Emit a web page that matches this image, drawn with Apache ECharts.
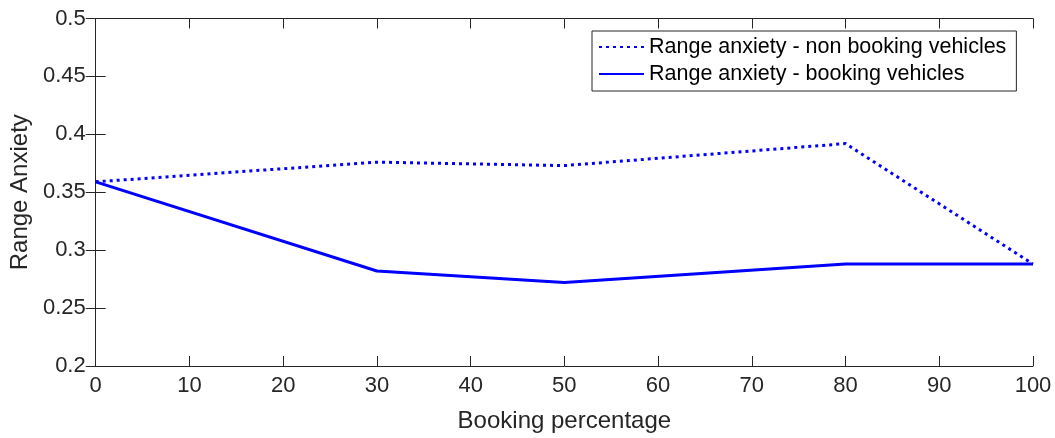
<!DOCTYPE html>
<html>
<head>
<meta charset="utf-8">
<script src="https://cdn.jsdelivr.net/npm/echarts@6/dist/echarts.min.js"></script>
<style>
  html, body { margin: 0; padding: 0; background: #ffffff; }
  #chart { width: 1055px; height: 438px; }
</style>
</head>
<body>
<div id="chart"></div>
<script>
// Booking percentage levels (x) and range anxiety per vehicle group
const bookingPct = [0, 30, 50, 80, 100];
const nonBooking = [0.359, 0.376, 0.373, 0.392, 0.288];
const booking = [0.359, 0.282, 0.272, 0.288, 0.288];
const seriesNames = ['Range anxiety - non booking vehicles', 'Range anxiety - booking vehicles'];

const axisColor = '#262626';
const font = 'Liberation Sans, Arial, Helvetica, sans-serif';

function pairs(xs, ys) { return xs.map((x, i) => [x, ys[i]]); }

const chart = echarts.init(document.getElementById('chart'), null, { renderer: 'canvas' });

const baseX = {
  type: 'value', min: 0, max: 100, interval: 10,
  axisLine: { show: true, lineStyle: { color: axisColor, width: 1 } },
  axisTick: { show: true, inside: true, length: 10, lineStyle: { color: axisColor } },
  splitLine: { show: false }
};
const baseY = {
  type: 'value', min: 0.2, max: 0.5, interval: 0.05,
  axisLine: { show: true, lineStyle: { color: axisColor, width: 1 } },
  axisTick: { show: true, inside: true, length: 10, lineStyle: { color: axisColor } },
  splitLine: { show: false }
};

chart.setOption({
  animation: false,
  backgroundColor: '#ffffff',
  grid: { left: 95, right: 22, top: 18.5, bottom: 69, containLabel: false },
  xAxis: [
    Object.assign({}, baseX, {
      position: 'bottom',
      name: 'Booking percentage', nameLocation: 'middle', nameGap: 43,
      nameTextStyle: { fontFamily: font, fontSize: 24, color: axisColor },
      axisLabel: { fontFamily: font, fontSize: 22, color: axisColor, margin: 9 }
    }),
    Object.assign({}, baseX, { position: 'top', axisLabel: { show: false } })
  ],
  yAxis: [
    Object.assign({}, baseY, {
      position: 'left',
      name: 'Range Anxiety', nameLocation: 'middle', nameGap: 62,
      nameTextStyle: { fontFamily: font, fontSize: 24, color: axisColor },
      axisLabel: {
        fontFamily: font, fontSize: 22, color: axisColor, margin: 10,
        formatter: v => String(parseFloat(v.toFixed(2)))
      }
    }),
    Object.assign({}, baseY, { position: 'right', axisLabel: { show: false } })
  ],
  legend: {
    orient: 'vertical',
    left: 592, top: 31,
    padding: [5, 10, 6, 6],
    itemGap: 5,
    itemWidth: 45, itemHeight: 18,
    backgroundColor: '#ffffff',
    borderColor: axisColor, borderWidth: 1,
    itemStyle: { opacity: 0 },
    textStyle: { fontFamily: font, fontSize: 21.5, color: '#000000' },
    data: seriesNames
  },
  series: [
    {
      name: seriesNames[0], type: 'line', data: pairs(bookingPct, nonBooking),
      symbol: 'none', showSymbol: false,
      lineStyle: { color: '#0000ff', width: 3, type: [3, 4] },
      itemStyle: { color: '#0000ff' }
    },
    {
      name: seriesNames[1], type: 'line', data: pairs(bookingPct, booking),
      symbol: 'none', showSymbol: false,
      lineStyle: { color: '#0000ff', width: 3, type: 'solid' },
      itemStyle: { color: '#0000ff' }
    }
  ]
});
</script>
</body>
</html>
